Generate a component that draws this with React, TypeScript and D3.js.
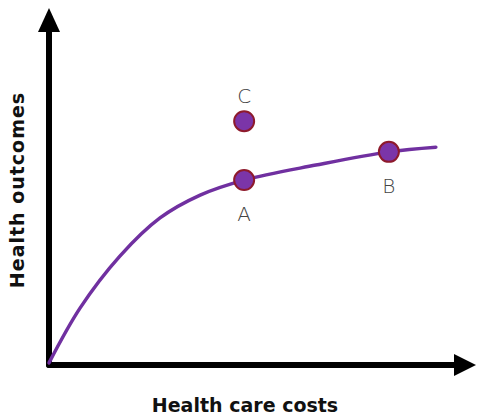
import * as d3 from 'd3'

// curve: health outcomes vs health care costs (0-100 units on both axes)
const curveX = [0, 7.3, 16.6, 26.0, 35.4, 45.7, 62.5, 79.6, 90.6]
const curveY = [0.6, 16.0, 30.5, 41.2, 47.6, 51.8, 56.0, 59.7, 61.0]

const pointLabels = ['A', 'B', 'C']
const pointX = [45.7, 79.6, 45.7]
const pointY = [51.8, 59.7, 68.3]
const labelPos = ['below', 'below', 'above']

const W = 484
const H = 418

export default function App() {
  const x = d3.scaleLinear().domain([0, 100]).range([49, 476])
  const y = d3.scaleLinear().domain([0, 100]).range([365, 8])

  const line = d3.line<number>()
    .x((_, i) => x(curveX[i]))
    .y((d) => y(d))
    .curve(d3.curveCatmullRom.alpha(0.5))

  const x0 = x(0), y0 = y(0)
  const xEnd = x(100), yEnd = y(100)

  return (
    <svg width={W} height={H} style={{ position: 'absolute', left: 0, top: 0, background: '#fff' }}>
      {/* axes */}
      <line x1={x0} y1={y0} x2={x0} y2={yEnd + 20} stroke="#000" strokeWidth={6} strokeLinecap="round" />
      <line x1={x0} y1={y0} x2={xEnd - 18} y2={y0} stroke="#000" strokeWidth={6} strokeLinecap="round" />
      <path d={`M${x0},${yEnd} L${x0 - 11},${yEnd + 24} L${x0 + 11},${yEnd + 24} Z`} fill="#000" />
      <path d={`M${xEnd},${y0} L${xEnd - 22},${y0 - 11} L${xEnd - 22},${y0 + 11} Z`} fill="#000" />

      <path d={line(curveY) || ''} fill="none" stroke="#7030a0" strokeWidth={3.5} strokeLinecap="round" />

      {pointLabels.map((lab, i) => (
        <g key={lab}>
          <circle cx={x(pointX[i])} cy={y(pointY[i])} r={10} fill="#7b35a8" stroke="#8e1a2c" strokeWidth={2} />
          <text
            x={x(pointX[i])}
            y={labelPos[i] === 'below' ? y(pointY[i]) + 41 : y(pointY[i]) - 18}
            textAnchor="middle"
            fontFamily="DejaVu Sans"
            fontWeight={200}
            fontSize={20}
            fill="#444"
          >
            {lab}
          </text>
        </g>
      ))}

      <text x={245} y={412} textAnchor="middle" fontFamily="DejaVu Sans" fontWeight="bold" fontSize={19} fill="#111">
        Health care costs
      </text>
      <text
        transform="translate(24,190) rotate(-90)"
        textAnchor="middle"
        fontFamily="DejaVu Sans"
        fontWeight="bold"
        fontSize={19}
        letterSpacing={1}
        fill="#111"
      >
        Health outcomes
      </text>
    </svg>
  )
}
